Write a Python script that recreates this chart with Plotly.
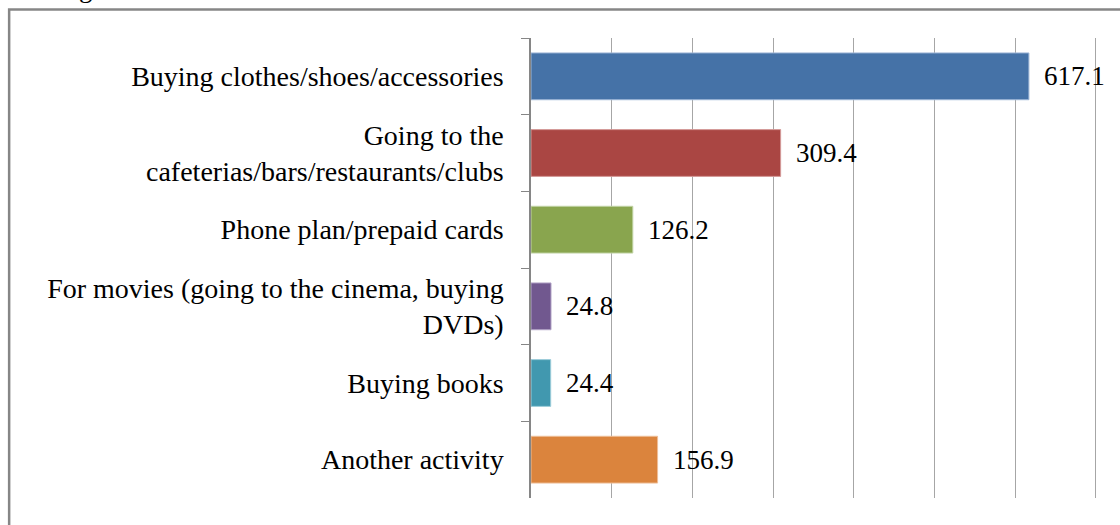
import plotly.graph_objects as go

# data
activities = [
    "Buying clothes/shoes/accessories",
    "Going to the<br>cafeterias/bars/restaurants/clubs",
    "Phone plan/prepaid cards",
    "For movies (going to the cinema, buying<br>DVDs)",
    "Buying books",
    "Another activity",
]
amounts = [617.1, 309.4, 126.2, 24.8, 24.4, 156.9]
bar_colors = ["#4572A7", "#AA4643", "#89A54E", "#71588F", "#4198AF", "#DB843D"]
edge_colors = ["#9DB5D6", "#D49A98", "#C2D4A6", "#B2A3C6", "#9CCCD9", "#EEBE98"]

font_family = "Liberation Serif"

fig = go.Figure()
fig.add_trace(go.Bar(
    y=activities, x=amounts, orientation="h",
    marker=dict(color=bar_colors, line=dict(color=edge_colors, width=1)),
    width=0.61, showlegend=False, hoverinfo="x+y",
))

# value labels next to the bars
for act, val in zip(activities, amounts):
    fig.add_annotation(x=val, y=act, xref="x", yref="y", text=f"{val:.1f}",
                       showarrow=False, xanchor="left", xshift=13,
                       font=dict(family=font_family, size=27, color="#000"))

# cut-off caption glyph at the very top
fig.add_annotation(x=-0.755, y=1.072, xref="paper", yref="paper", text="g",
                   showarrow=False, xanchor="center", yanchor="bottom",
                   font=dict(family=font_family, size=27, color="#000"))

# outer frame
fig.add_shape(type="rect", xref="paper", yref="paper",
              x0=-0.886, x1=1.2, y0=-0.2, y1=1.0617,
              line=dict(color="#868686", width=2.5), fillcolor="rgba(0,0,0,0)")

fig.update_layout(
    width=1120, height=525,
    margin=dict(l=531, r=0, t=38, b=27),
    plot_bgcolor="white", paper_bgcolor="white",
    font=dict(family=font_family, size=28, color="#000"),
)
fig.update_xaxes(range=[0, 730], dtick=100, showgrid=True, gridcolor="#A6A6A6",
                 gridwidth=1, showticklabels=False, zeroline=False, showline=False)
fig.update_yaxes(autorange="reversed", showline=True, linecolor="#868686", linewidth=1.5,
                 ticks="outside", tickson="boundaries", ticklen=8, tickcolor="#868686",
                 ticklabelstandoff=20, showgrid=False)

# drop the default page margin so the figure sits at the window's corner
fig.write_html("out.html", config={"displayModeBar": False},
               post_script="document.body.style.margin='0';")
